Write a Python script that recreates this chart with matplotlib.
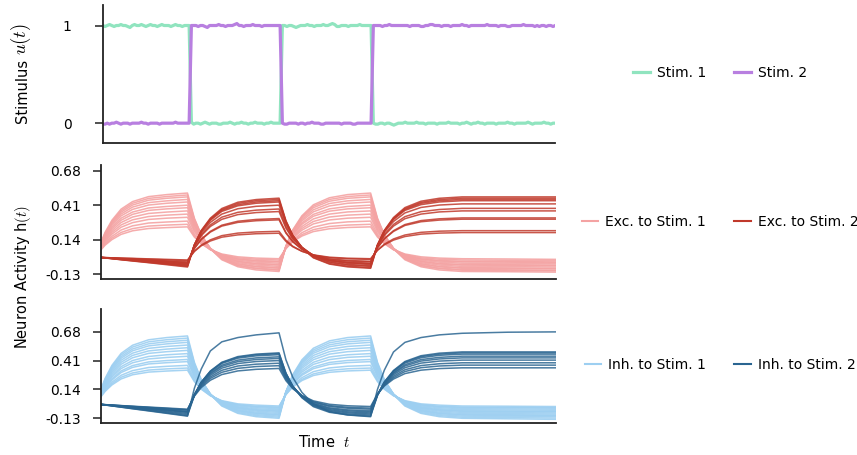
import numpy as np
import matplotlib
matplotlib.use("Agg")
import matplotlib.pyplot as plt
from matplotlib.lines import Line2D

plt.rcParams["mathtext.fontset"] = "cm"

# ---------------- data ----------------
stim1 = [
    1.00, 0.99, 1.00, 1.01, 1.00, 0.99, 1.00, 1.00, 1.01, 1.00,
    1.00, 0.99, 0.98, 1.00, 1.01, 1.00, 1.00, 1.01, 1.00, 0.99,
    1.00, 1.01, 1.00, 1.00, 0.99, 1.00, 1.01, 1.00, 1.00, 1.00,
    0.99, 1.00, 1.01, 1.00, 1.00, 0.99, 1.00, 1.00, 1.00, 0.01,
    -0.01, 0.00, 0.00, -0.01, 0.00, 0.01, 0.00, -0.01, 0.00, 0.00,
    0.00, -0.01, -0.01, 0.00, 0.00, 0.00, 0.01, 0.00, -0.01, 0.00,
    0.00, 0.01, 0.00, 0.00, -0.01, 0.00, 0.00, 0.01, 0.00, 0.00,
    0.00, -0.01, 0.00, 0.00, 0.01, 0.00, 0.00, 0.00, 0.00, 1.00,
    1.00, 0.99, 1.00, 1.00, 0.99, 0.98, 0.99, 1.00, 1.00, 1.00,
    1.01, 1.00, 1.00, 0.99, 1.00, 1.00, 1.00, 1.01, 1.00, 1.00,
    1.01, 1.02, 1.01, 0.99, 0.99, 1.00, 1.00, 1.00, 0.99, 1.00,
    1.00, 1.00, 1.00, 1.01, 1.00, 1.00, 1.00, 1.00, 1.00, 0.00,
    -0.01, -0.01, 0.00, 0.00, -0.01, 0.00, 0.00, -0.01, -0.02, -0.01,
    0.00, 0.00, 0.00, 0.01, 0.00, 0.00, 0.00, 0.00, 0.01, 0.00,
    0.00, 0.00, -0.01, 0.00, 0.00, 0.00, 0.00, -0.01, 0.00, 0.00,
    0.00, 0.00, 0.01, 0.00, 0.00, 0.00, 0.00, -0.01, 0.00, 0.00,
    0.01, 0.00, -0.01, 0.00, 0.00, 0.01, 0.00, 0.00, -0.01, 0.00,
    0.00, 0.00, 0.00, -0.01, 0.00, 0.00, 0.00, 0.00, 0.01, 0.00,
    0.00, -0.01, 0.00, 0.00, 0.00, 0.00, 0.00, 0.01, 0.00, -0.01,
    0.00, 0.00, 0.00, 0.00, 0.01, 0.00, 0.00, -0.01, 0.00, 0.00,
]
stim2 = [
    -0.01, -0.01, 0.00, -0.01, 0.00, 0.00, 0.01, 0.00, -0.01, 0.00,
    0.00, 0.00, -0.01, 0.00, 0.00, 0.00, 0.00, 0.01, 0.00, 0.00,
    -0.01, 0.00, 0.00, 0.00, 0.00, -0.01, 0.00, 0.00, 0.00, 0.00,
    0.00, 0.00, 0.01, 0.00, 0.00, 0.00, 0.00, 0.00, 0.00, 1.00,
    1.00, 1.00, 0.99, 1.00, 1.00, 0.99, 0.98, 1.00, 1.00, 1.00,
    1.00, 1.01, 1.00, 1.00, 0.99, 1.00, 1.00, 1.00, 1.01, 1.02,
    1.00, 1.00, 0.99, 1.00, 1.00, 1.00, 1.01, 1.00, 1.00, 1.00,
    0.99, 1.00, 1.00, 1.00, 1.00, 1.00, 1.00, 1.00, 1.00, 0.00,
    -0.01, -0.01, 0.00, 0.00, 0.00, 0.00, -0.01, 0.00, 0.00, -0.01,
    0.00, 0.00, 0.01, 0.00, 0.00, 0.00, -0.01, -0.01, 0.00, 0.00,
    0.00, 0.00, 0.00, 0.00, 0.00, -0.01, 0.00, 0.00, 0.00, 0.00,
    -0.01, -0.01, 0.00, 0.00, 0.00, 0.00, 0.00, 0.00, 0.00, 1.00,
    1.00, 1.00, 1.00, 0.99, 1.00, 1.00, 1.01, 1.00, 1.00, 1.00,
    1.00, 1.00, 1.00, 1.00, 1.00, 0.99, 1.00, 1.00, 1.00, 1.00,
    0.99, 0.99, 1.00, 1.00, 1.01, 1.01, 1.00, 1.00, 1.00, 0.99,
    1.00, 1.00, 1.00, 0.99, 1.00, 1.00, 1.00, 1.00, 1.01, 1.00,
    1.00, 0.99, 1.00, 1.00, 1.00, 1.00, 1.00, 1.00, 1.00, 1.01,
    1.00, 1.00, 1.00, 1.00, 0.99, 1.00, 1.00, 1.00, 0.99, 0.99,
    1.00, 1.00, 1.00, 1.00, 1.00, 1.01, 1.00, 1.00, 1.00, 1.00,
    0.99, 1.00, 0.99, 1.00, 1.00, 0.99, 1.00, 1.00, 0.99, 1.00,
]

knot_t = [0, 2, 5, 9, 14, 21, 29, 38,
          41, 44, 48, 53, 60, 68, 78,
          81, 84, 88, 93, 100, 108, 118,
          121, 124, 128, 133, 140, 148, 158, 178, 199]

exc_stim1 = [
    [.110,.197,.292,.379,.438,.477,.493,.505, .308,.179,.068,-.018,-.073,-.098,-.110, .087,.216,.327,.413,.468,.493,.505, .308,.179,.068,-.018,-.073,-.098,-.110,-.112,-.115],
    [.105,.190,.282,.367,.425,.463,.478,.490, .301,.177,.071,-.012,-.065,-.088,-.100, .089,.213,.319,.402,.455,.478,.490, .301,.177,.071,-.012,-.065,-.088,-.100,-.102,-.105],
    [.100,.183,.273,.355,.411,.449,.464,.475, .293,.173,.070,-.010,-.061,-.084,-.095, .087,.207,.310,.390,.441,.464,.475, .293,.173,.070,-.010,-.061,-.084,-.095,-.097,-.100],
    [.100,.178,.263,.341,.395,.430,.444,.455, .282,.169,.072,-.004,-.053,-.074,-.085, .088,.201,.298,.374,.423,.444,.455, .282,.169,.072,-.004,-.053,-.074,-.085,-.087,-.090],
    [.095,.170,.251,.326,.377,.411,.425,.435, .270,.162,.069,-.003,-.049,-.070,-.080, .085,.193,.286,.358,.404,.425,.435, .270,.162,.069,-.003,-.049,-.070,-.080,-.082,-.085],
    [.090,.160,.237,.308,.356,.388,.400,.410, .256,.156,.069,.002,-.041,-.060,-.070, .084,.184,.271,.338,.381,.400,.410, .256,.156,.069,.002,-.041,-.060,-.070,-.072,-.075],
    [.085,.152,.225,.292,.338,.369,.381,.390, .246,.151,.070,.007,-.033,-.051,-.060, .084,.179,.260,.323,.363,.381,.390, .246,.151,.070,.007,-.033,-.051,-.060,-.062,-.065],
    [.080,.143,.211,.274,.317,.345,.356,.365, .231,.142,.067,.008,-.030,-.047,-.055, .079,.168,.243,.302,.340,.357,.365, .231,.142,.067,.008,-.030,-.047,-.055,-.057,-.060],
    [.075,.133,.197,.255,.295,.321,.332,.340, .217,.136,.067,.013,-.022,-.037,-.045, .078,.159,.228,.282,.317,.332,.340, .217,.136,.067,.013,-.022,-.037,-.045,-.047,-.050],
    [.070,.124,.183,.237,.273,.298,.308,.315, .203,.129,.066,.017,-.014,-.028,-.035, .077,.151,.214,.263,.294,.308,.315, .203,.129,.066,.017,-.014,-.028,-.035,-.037,-.040],
    [.065,.113,.166,.215,.248,.270,.278,.285, .184,.118,.061,.017,-.011,-.024,-.030, .071,.137,.194,.238,.266,.279,.285, .184,.118,.061,.017,-.011,-.024,-.030,-.032,-.035],
    [.060,.104,.152,.196,.226,.246,.254,.260, .170,.112,.061,.022,-.003,-.014,-.020, .070,.128,.179,.218,.243,.254,.260, .170,.112,.061,.022,-.003,-.014,-.020,-.022,-.025],
    [.055,.096,.140,.181,.209,.227,.234,.240, .160,.107,.062,.027,.005,-.005,-.010, .070,.123,.168,.203,.225,.235,.240, .160,.107,.062,.027,.005,-.005,-.010,-.012,-.015],
]

exc_stim2 = [
    [0,-.004,-.010,-.018,-.028,-.041,-.057,-.075, .098,.211,.308,.384,.433,.454,.465, .289,.173,.074,-.003,-.052,-.074,-.085, .094,.212,.313,.391,.441,.464,.475,.475,.475],
    [0,-.004,-.009,-.017,-.026,-.039,-.053,-.070, .098,.208,.303,.376,.424,.445,.455, .284,.171,.075,.000,-.048,-.069,-.080, .094,.209,.307,.383,.432,.454,.465,.465,.465],
    [0,-.003,-.008,-.016,-.024,-.036,-.049,-.065, .098,.205,.297,.369,.414,.435,.445, .280,.172,.079,.007,-.039,-.060,-.070, .098,.208,.303,.376,.424,.445,.455,.455,.455],
    [0,-.003,-.008,-.014,-.022,-.033,-.046,-.060, .098,.202,.291,.361,.405,.425,.435, .275,.170,.080,.010,-.035,-.055,-.065, .098,.205,.297,.369,.414,.435,.445,.445,.445],
    [0,-.003,-.007,-.013,-.020,-.030,-.042,-.055, .094,.191,.275,.340,.382,.401,.410, .261,.164,.080,.015,-.027,-.046,-.055, .097,.197,.282,.349,.392,.411,.420,.420,.420],
    [0,-.003,-.007,-.012,-.019,-.028,-.038,-.050, .088,.178,.255,.316,.354,.371,.380, .242,.152,.075,.014,-.024,-.041,-.050, .089,.181,.259,.320,.359,.376,.385,.385,.385],
    [0,-.002,-.006,-.011,-.017,-.025,-.034,-.045, .085,.170,.243,.299,.336,.352,.360, .230,.145,.072,.016,-.021,-.037,-.045, .086,.172,.246,.304,.340,.357,.365,.365,.365],
    [0,-.002,-.005,-.010,-.015,-.022,-.030,-.040, .070,.143,.205,.253,.284,.298,.305, .196,.125,.064,.016,-.015,-.028,-.035, .075,.148,.210,.258,.289,.303,.310,.310,.310],
    [0,-.002,-.005,-.008,-.013,-.019,-.027,-.035, .071,.140,.199,.246,.275,.288,.295, .191,.123,.064,.019,-.011,-.024,-.030, .076,.145,.204,.251,.280,.293,.300,.300,.300],
    [0,-.001,-.003,-.006,-.009,-.014,-.019,-.025, .049,.097,.138,.171,.191,.200,.205, .135,.088,.049,.018,-.002,-.011,-.015, .057,.104,.145,.176,.197,.206,.210,.210,.210],
    [0,-.001,-.003,-.005,-.007,-.011,-.015,-.020, .047,.091,.129,.159,.177,.186,.190, .126,.084,.048,.020,.002,-.006,-.010, .056,.099,.136,.164,.183,.191,.195,.195,.195],
]

inh_stim1 = [
    [.130,.242,.365,.477,.553,.604,.625,.640, .394,.232,.093,-.015,-.084,-.115,-.130, .116,.278,.417,.525,.594,.625,.640, .394,.232,.093,-.015,-.084,-.115,-.130,-.135,-.140],
    [.125,.234,.353,.462,.536,.585,.605,.620, .383,.228,.095,-.009,-.076,-.105,-.120, .117,.272,.405,.509,.576,.605,.620, .383,.228,.095,-.009,-.076,-.105,-.120,-.124,-.128],
    [.120,.226,.341,.446,.518,.566,.586,.600, .373,.224,.096,-.004,-.067,-.096,-.110, .117,.266,.394,.494,.557,.586,.600, .373,.224,.096,-.004,-.067,-.096,-.110,-.113,-.116],
    [.115,.217,.329,.431,.501,.547,.566,.580, .362,.220,.097,.002,-.059,-.086,-.100, .118,.260,.383,.478,.539,.566,.580, .362,.220,.097,.002,-.059,-.086,-.100,-.103,-.106],
    [.110,.208,.315,.413,.479,.524,.542,.555, .347,.210,.093,.002,-.056,-.082,-.095, .113,.250,.367,.458,.516,.542,.555, .347,.210,.093,.002,-.056,-.082,-.095,-.097,-.100],
    [.105,.199,.301,.394,.458,.500,.517,.530, .333,.204,.093,.007,-.048,-.073,-.085, .112,.241,.352,.438,.493,.518,.530, .333,.204,.093,.007,-.048,-.073,-.085,-.087,-.090],
    [.100,.189,.286,.375,.436,.477,.493,.505, .319,.198,.093,.012,-.040,-.063,-.075, .111,.232,.337,.418,.470,.493,.505, .319,.198,.093,.012,-.040,-.063,-.075,-.077,-.080],
    [.095,.179,.270,.353,.410,.448,.464,.475, .302,.189,.092,.016,-.033,-.054,-.065, .108,.221,.318,.394,.443,.464,.475, .302,.189,.092,.016,-.033,-.054,-.065,-.067,-.070],
    [.090,.169,.256,.335,.389,.425,.439,.450, .287,.180,.088,.016,-.029,-.050,-.060, .103,.210,.302,.374,.419,.440,.450, .287,.180,.088,.016,-.029,-.050,-.060,-.062,-.065],
    [.085,.159,.239,.313,.363,.397,.410,.420, .270,.171,.086,.020,-.022,-.041,-.050, .100,.199,.284,.350,.392,.411,.420, .270,.171,.086,.020,-.022,-.041,-.050,-.052,-.055],
    [.080,.150,.227,.298,.346,.378,.390,.400, .259,.167,.088,.026,-.014,-.031,-.040, .101,.193,.272,.334,.374,.391,.400, .259,.167,.088,.026,-.014,-.031,-.040,-.042,-.045],
    [.075,.139,.208,.272,.316,.345,.356,.365, .239,.156,.085,.029,-.006,-.022,-.030, .096,.179,.250,.306,.341,.357,.365, .239,.156,.085,.029,-.006,-.022,-.030,-.032,-.035],
    [.070,.129,.194,.254,.294,.321,.332,.340, .223,.147,.081,.030,-.003,-.018,-.025, .092,.168,.234,.285,.318,.333,.340, .223,.147,.081,.030,-.003,-.018,-.025,-.027,-.030],
    [.065,.121,.182,.238,.277,.302,.312,.320, .213,.142,.082,.035,.005,-.007,-.015, .092,.163,.223,.270,.300,.313,.320, .213,.142,.082,.035,.005,-.007,-.015,-.017,-.020],
]

inh_stim2 = [
    [0,-.006,-.014,-.026,-.041,-.061,-.084,-.110, .150,.330,.500,.585,.625,.650,.669, .418,.253,.112,.003,-.068,-.099,-.115, .140,.320,.490,.580,.625,.650,.665,.675,.678],
    [0,-.005,-.014,-.025,-.039,-.058,-.080,-.105, .083,.206,.312,.394,.447,.470,.482, .293,.168,.062,-.021,-.074,-.098,-.110, .082,.209,.317,.401,.455,.479,.491,.491,.491],
    [0,-.005,-.012,-.023,-.035,-.052,-.072,-.095, .087,.207,.310,.390,.441,.464,.475, .291,.170,.067,-.014,-.066,-.089,-.100, .086,.208,.313,.395,.447,.470,.482,.482,.482],
    [0,-.004,-.011,-.020,-.031,-.047,-.065,-.085, .091,.207,.306,.383,.432,.454,.465, .287,.171,.071,-.007,-.057,-.079,-.090, .089,.207,.308,.386,.436,.459,.470,.470,.470],
    [0,-.004,-.010,-.018,-.028,-.041,-.057,-.075, .091,.201,.294,.367,.414,.435,.445, .277,.167,.072,-.001,-.049,-.070,-.080, .090,.201,.297,.371,.419,.440,.451,.451,.451],
    [0,-.004,-.009,-.017,-.026,-.039,-.053,-.070, .090,.195,.285,.355,.400,.420,.430, .270,.165,.075,.005,-.040,-.060,-.070, .092,.198,.289,.359,.405,.425,.435,.435,.435],
    [0,-.003,-.008,-.016,-.024,-.036,-.049,-.065, .087,.187,.272,.339,.382,.401,.410, .260,.161,.076,.010,-.032,-.051,-.060, .092,.191,.277,.343,.386,.405,.414,.414,.414],
    [0,-.003,-.007,-.013,-.020,-.030,-.042,-.055, .086,.178,.257,.319,.359,.376,.385, .247,.157,.080,.019,-.019,-.036,-.045, .094,.185,.263,.324,.363,.380,.389,.389,.389],
    [0,-.003,-.007,-.012,-.019,-.028,-.038,-.050, .082,.168,.243,.300,.337,.354,.362, .235,.152,.080,.025,-.011,-.027,-.035, .094,.178,.250,.307,.343,.359,.367,.367,.367],
    [0,-.002,-.006,-.011,-.017,-.025,-.034,-.045, .077,.157,.226,.279,.313,.328,.336, .222,.147,.083,.033,.001,-.013,-.020, .096,.172,.237,.288,.320,.335,.342,.342,.342],
]

act_ticks = [-0.13, 0.14, 0.41, 0.68]
act_ticklabels = ["-0.13", "0.14", "0.41", "0.68"]
stim_ticks = [0, 1]
stim_ticklabels = ["0", "1"]

labels_stim = ["Stim. 1", "Stim. 2"]
labels_exc = ["Exc. to Stim. 1", "Exc. to Stim. 2"]
labels_inh = ["Inh. to Stim. 1", "Inh. to Stim. 2"]

# ---------------- style ----------------
C_S1, C_S2 = "#90e4bf", "#b87fe0"
C_E1, C_E2 = "#f4a3a3", "#c0392b"
C_I1, C_I2 = "#9dcff1", "#2a6591"

W, H = 857, 455
fig = plt.figure(figsize=(W / 100, H / 100), dpi=100)
ax0 = fig.add_axes([102.7 / W, 1 - 142.7 / H, 452.6 / W, 137.7 / H])
ax1 = fig.add_axes([100.5 / W, 1 - 279 / H, 455.5 / W, 114 / H])
ax2 = fig.add_axes([100.5 / W, 1 - 423 / H, 455.5 / W, 114 / H])

t_full = np.arange(len(stim1))
ax0.plot(t_full, stim1, color=C_S1, lw=2.3, solid_joinstyle="round")
ax0.plot(t_full, stim2, color=C_S2, lw=2.3, solid_joinstyle="round")

for row in exc_stim1:
    ax1.plot(knot_t, row, color=C_E1, lw=1.1, alpha=0.9)
for row in exc_stim2:
    ax1.plot(knot_t, row, color=C_E2, lw=1.1, alpha=0.85)
for row in inh_stim1:
    ax2.plot(knot_t, row, color=C_I1, lw=1.1, alpha=0.9)
for row in inh_stim2:
    ax2.plot(knot_t, row, color=C_I2, lw=1.1, alpha=0.85)

for ax in (ax0, ax1, ax2):
    ax.set_xlim(0, len(stim1) - 1)
    ax.set_xticks([])
    for s in ("top", "right"):
        ax.spines[s].set_visible(False)
    for s in ("left", "bottom"):
        ax.spines[s].set_linewidth(1.3)
        ax.spines[s].set_color("#222222")
    ax.tick_params(axis="y", length=5.5, width=1.1, labelsize=10, color="#222222")

ax0.set_ylim(-0.2, 1.21)
ax0.set_yticks(stim_ticks)
ax0.set_yticklabels(stim_ticklabels)
ax0.tick_params(axis="y", pad=17)

ax1.set_ylim(-0.169, 0.725)
ax2.set_ylim(-0.174, 0.892)
for ax in (ax1, ax2):
    ax.set_yticks(act_ticks)
    ax.set_yticklabels(act_ticklabels)
    ax.tick_params(axis="y", pad=8.5)

# y label of the stimulus panel: word and math drawn at their own sizes
t_word = fig.text(22 / W, 1 - 123.5 / H, "Stimulus", rotation=90, ha="center", va="bottom", fontsize=10.5)
fig.canvas.draw()
bb = t_word.get_window_extent()
fig.text(21 / W, (bb.y1 + 4) / H, "$u(t)$", rotation=90, ha="center", va="bottom", fontsize=13.5)

fig.text(23 / W, 1 - 277 / H, "Neuron Activity h$(t)$", rotation=90, ha="center", va="center", fontsize=10.5)
fig.text(324 / W, 1 - 442 / H, "Time  $t$", ha="center", va="center", fontsize=10.5)

def add_legend(ax, colors, labels, lw, yc):
    handles = [Line2D([0], [0], color=c, lw=lw) for c in colors]
    ax.legend(handles, labels, loc="center", bbox_to_anchor=(720 / W, 1 - yc / H),
              bbox_transform=fig.transFigure, ncol=2, frameon=False, fontsize=10,
              handlelength=1.2, handletextpad=0.5, columnspacing=2.0)

add_legend(ax0, [C_S1, C_S2], labels_stim, 2.3, 73)
add_legend(ax1, [C_E1, C_E2], labels_exc, 1.5, 222)
add_legend(ax2, [C_I1, C_I2], labels_inh, 1.5, 365)

fig.savefig("out.png", dpi=100)
